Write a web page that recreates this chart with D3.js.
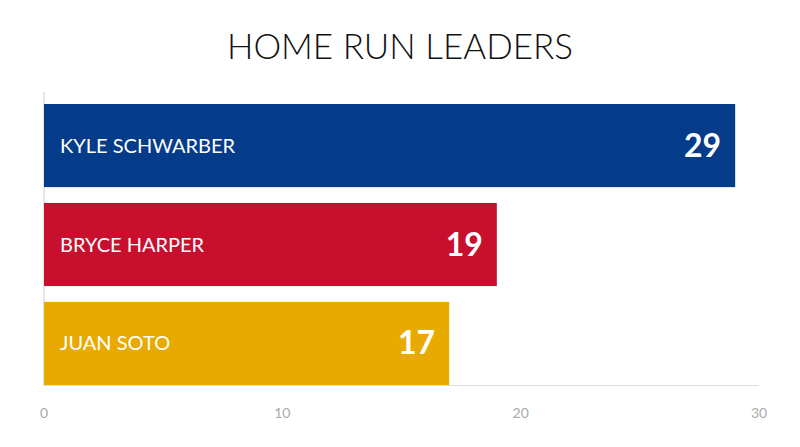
<!DOCTYPE html>
<html><head><meta charset="utf-8">
<script src="https://cdn.jsdelivr.net/npm/d3@7"></script>
<style>body{margin:0;background:#fff}</style></head>
<body><svg id="c" width="800" height="447"></svg>
<script>
const players = ["KYLE SCHWARBER","BRYCE HARPER","JUAN SOTO"];
const homeRuns = [29,19,17];
const colors = ["#043c8a","#c8102e","#e8a900"];
const ticks = [0,10,20,30];
const svg = d3.select("#c");
const x = d3.scaleLinear().domain([0,30]).range([44,759]);
const y = d3.scaleBand().domain(players).range([104,385]).paddingInner(0.16).paddingOuter(0);
svg.append("text").attr("x",400).attr("y",59).attr("text-anchor","middle")
  .attr("font-family","Lato").attr("font-weight",300).attr("font-size",35).attr("fill","#111").text("HOME RUN LEADERS");
svg.append("line").attr("x1",44).attr("x2",44).attr("y1",92).attr("y2",386).attr("stroke","#ccc");
svg.append("line").attr("x1",44).attr("x2",759).attr("y1",385.5).attr("y2",385.5).attr("stroke","#ddd");
const g = svg.selectAll("g.b").data(players).join("g");
g.append("rect").attr("x",x(0)).attr("y",d=>y(d)).attr("height",y.bandwidth())
  .attr("width",(d,i)=>x(homeRuns[i])-x(0)).attr("fill",(d,i)=>colors[i]);
g.append("text").attr("x",60).attr("y",d=>y(d)+y.bandwidth()/2+7).attr("fill","#fff")
  .attr("font-family","Lato").attr("font-size",20).text(d=>d);
g.append("text").attr("x",(d,i)=>x(homeRuns[i])-14).attr("y",d=>y(d)+y.bandwidth()/2+11).attr("text-anchor","end")
  .attr("fill","#fff").attr("font-family","Lato").attr("font-weight",700).attr("font-size",32).text((d,i)=>homeRuns[i]);
svg.selectAll("text.t").data(ticks).join("text").attr("class","t").attr("x",d=>x(d)).attr("y",418)
  .attr("text-anchor","middle").attr("font-family","Lato").attr("font-size",14).attr("fill","#aaa").text(d=>d);
</script></body></html>
